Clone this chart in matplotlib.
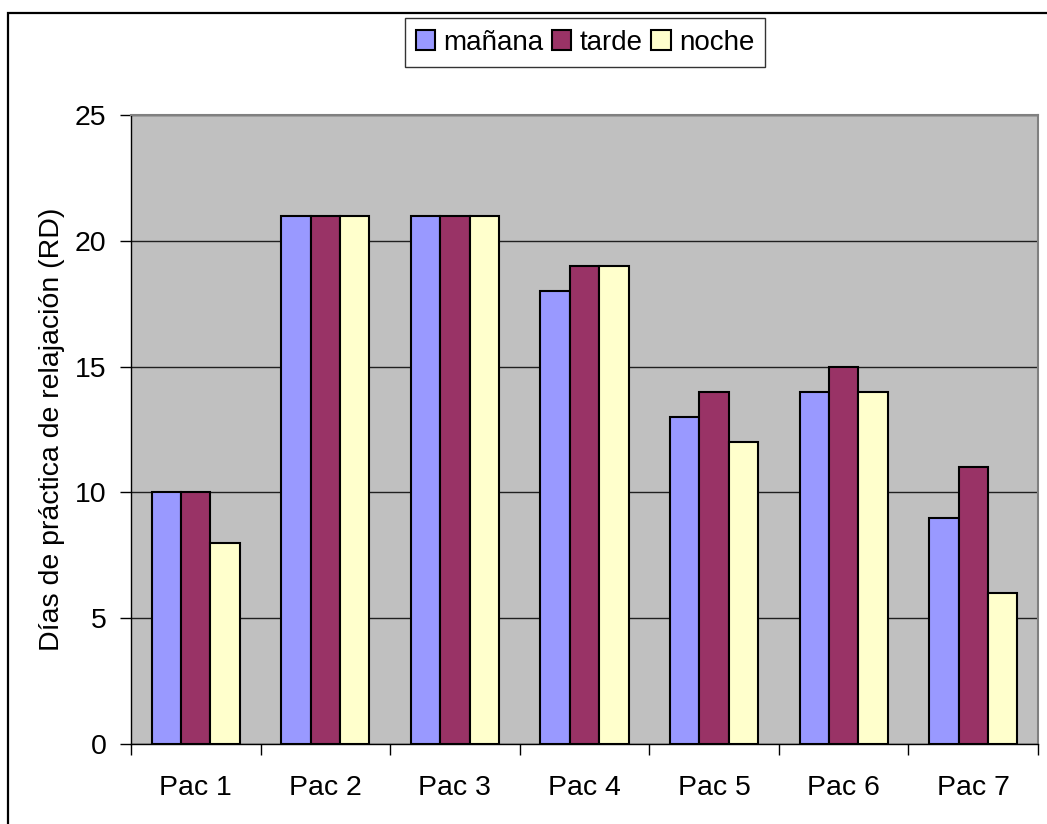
import matplotlib
matplotlib.use("Agg")
import matplotlib.pyplot as plt
from matplotlib.patches import Rectangle
import numpy as np

plt.rcParams['font.family'] = ['Liberation Sans', 'DejaVu Sans']

categories = ["Pac 1", "Pac 2", "Pac 3", "Pac 4", "Pac 5", "Pac 6", "Pac 7"]
manana = [10, 21, 21, 18, 13, 14, 9]
tarde = [10, 21, 21, 19, 14, 15, 11]
noche = [8, 21, 21, 19, 12, 14, 6]
series_names = ["mañana", "tarde", "noche"]
colors = ["#9999FF", "#993366", "#FFFFCC"]
yticks = [0, 5, 10, 15, 20, 25]

W, H = 1047, 824
FS = 20.5
fig = plt.figure(figsize=(W / 100, H / 100), dpi=100)
fig.patch.set_facecolor("white")

# outer chart frame (open on the right and bottom edges)
fig.add_artist(Rectangle((8 / W, -0.05), 1.1, 1 - 12.5 / H + 0.05,
                         transform=fig.transFigure, fill=False,
                         edgecolor="black", linewidth=1.6))

ax = fig.add_axes([131 / W, 1 - 744 / H, (1038 - 131) / W, (744 - 115) / H])
ax.set_facecolor("#C0C0C0")

x = np.arange(len(categories))
bw = 0.227
for i, (vals, name, col) in enumerate(zip([manana, tarde, noche], series_names, colors)):
    ax.bar(x + (i - 1) * bw, vals, width=bw, color=col, edgecolor="black",
           linewidth=1.5, label=name, zorder=3)

ax.set_xlim(-0.5, len(categories) - 0.5)
ax.set_ylim(0, 25)
ax.set_yticks(yticks)
ax.set_yticklabels([str(t) for t in yticks], fontsize=FS)
ax.yaxis.grid(True, color="#202020", linewidth=1.0, zorder=1)
ax.set_axisbelow(True)

ax.set_xticks(x)
ax.set_xticklabels(categories, fontsize=FS)
ax.set_xticks(np.arange(len(categories) + 1) - 0.5, minor=True)
ax.tick_params(axis="x", which="major", length=0, pad=22)
ax.tick_params(axis="x", which="minor", length=8, width=1.0, direction="out")
ax.tick_params(axis="y", length=8, width=1.0, direction="out", pad=9.5)

for side in ["top", "right"]:
    ax.spines[side].set_color("#808080")
    ax.spines[side].set_linewidth(1.5)
for side in ["left", "bottom"]:
    ax.spines[side].set_color("black")
    ax.spines[side].set_linewidth(1.0)

ax.set_ylabel("Días de práctica de relajación (RD)", fontsize=FS, labelpad=7)

leg = fig.legend(loc="center", bbox_to_anchor=(585 / W, 1 - 42.5 / H), ncol=3,
                 fontsize=20, frameon=True, fancybox=False, edgecolor="black",
                 handlelength=0.7, handleheight=0.7, handletextpad=0.3,
                 columnspacing=0.3, borderpad=0.4, borderaxespad=0)
leg.get_frame().set_linewidth(1.0)

fig.savefig("out.png", dpi=100, facecolor="white")
